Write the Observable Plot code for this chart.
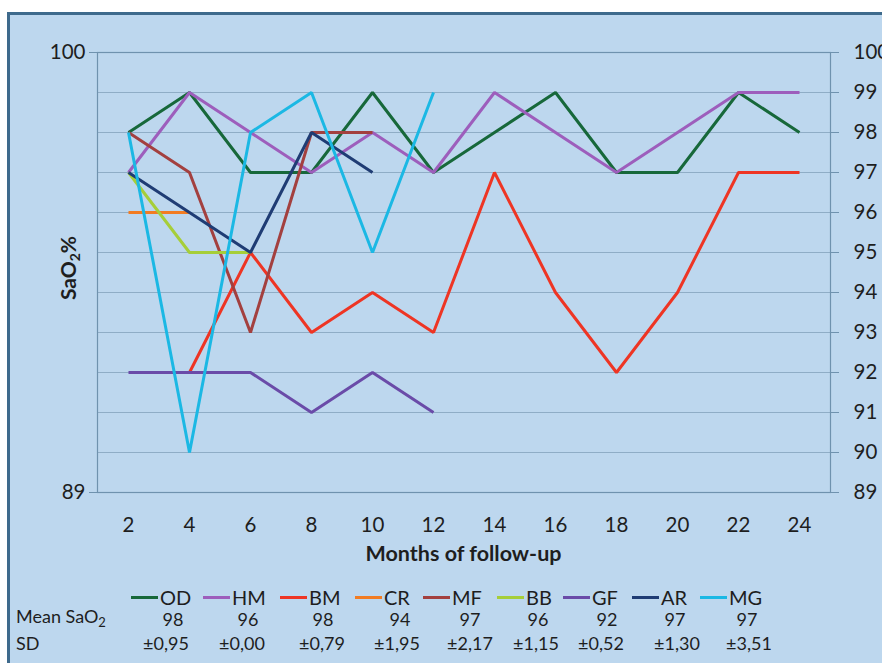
<!DOCTYPE html>
<html><head><meta charset="utf-8">
<script src="https://cdn.jsdelivr.net/npm/d3@7"></script>
<script src="https://cdn.jsdelivr.net/npm/@observablehq/plot@0.6"></script>
<style>
html,body{margin:0;padding:0;background:#fff;width:882px;height:663px;overflow:hidden;font-family:Lato,"Open Sans",sans-serif;color:#1e1e1e;}
#frame{position:absolute;left:7px;top:12px;width:900px;height:700px;background:#BDD7EE;border-left:3px solid #3E6A8C;border-top:3px solid #3E6A8C;}
#chart{position:absolute;left:0;top:0;}
.lg{position:absolute;top:597px;transform:translateY(-50%);display:flex;align-items:center;font-size:20px;line-height:20px;}
.lg span.sw{display:inline-block;width:27px;height:3px;margin-right:2px;}
.cell{position:absolute;transform:translate(-50%,-50%);font-size:18px;line-height:18px;white-space:nowrap;}
.rowlab{position:absolute;left:16px;transform:translateY(-50%);font-size:18px;line-height:18px;white-space:nowrap;}
</style></head>
<body>
<div id="frame"></div>
<div id="chart"></div>
<div id="legend"></div>
<script>
// ---- data ----
const months = [2, 4, 6, 8, 10, 12, 14, 16, 18, 20, 22, 24];
const seriesNames = ["OD", "HM", "BM", "CR", "MF", "BB", "GF", "AR", "MG"];
const OD = [98, 99, 97, 97, 99, 97, 98, 99, 97, 97, 99, 98];
const HM = [97, 99, 98, 97, 98, 97, 99, 98, 97, 98, 99, 99];
const BM = [null, 92, 95, 93, 94, 93, 97, 94, 92, 94, 97, 97];
const CR = [96, 96, null, null, null, null, null, null, null, null, null, null];
const MF = [98, 97, 93, 98, 98, null, null, null, null, null, null, null];
const BB = [97, 95, 95, null, null, null, null, null, null, null, null, null];
const GF = [92, 92, 92, 91, 92, 91, null, null, null, null, null, null];
const AR = [97, 96, 95, 98, 97, null, null, null, null, null, null, null];
const MG = [98, 90, 98, 99, 95, 99, null, null, null, null, null, null];
const meanSaO2 = ["98", "96", "98", "94", "97", "96", "92", "97", "97"];
const sdSaO2 = ["±0,95", "±0,00", "±0,79", "±1,95", "±2,17", "±1,15", "±0,52", "±1,30", "±3,51"];
const yTicksRight = [89, 90, 91, 92, 93, 94, 95, 96, 97, 98, 99, 100];
const yTicksLeft = [89, 100];
const yGrid = [90, 91, 92, 93, 94, 95, 96, 97, 98, 99];

// ---- styles ----
const colors = ["#17683A", "#9D5EBC", "#EE3524", "#F27C22", "#A3403F", "#A6CE39", "#6A4BA8", "#1F3C74", "#1BB8E4"];
const gridColor = "#8FADC6";
const axisColor = "#6F92AE";

const valuesBySeries = [OD, HM, BM, CR, MF, BB, GF, AR, MG];
const data = [];
seriesNames.forEach((s, i) => {
  valuesBySeries[i].forEach((v, j) => {
    if (v != null) data.push({series: s, month: months[j], value: v});
  });
});

const plot = Plot.plot({
  width: 882,
  height: 575,
  marginLeft: 97,
  marginRight: 52,
  marginTop: 52,
  marginBottom: 83,
  style: {background: "transparent", fontFamily: "Lato, 'Open Sans', sans-serif", fontSize: "20px", color: "#1e1e1e", overflow: "visible"},
  x: {type: "point", domain: months, padding: 0.5},
  y: {domain: [89, 100]},
  color: {domain: seriesNames, range: colors},
  marks: [
    Plot.ruleY(yGrid, {stroke: gridColor, strokeWidth: 1.2}),
    Plot.frame({stroke: axisColor, strokeWidth: 1.2}),
    Plot.axisY(yTicksLeft, {anchor: "left", tickSize: 8, tickPadding: 4, label: null, stroke: axisColor, fontSize: 20.5}),
    Plot.axisY(yTicksRight, {anchor: "right", tickSize: 8, tickPadding: 15, label: null, stroke: axisColor, fontSize: 20.5}),
    Plot.axisX({anchor: "bottom", tickSize: 0, tickPadding: 25, label: null, fontSize: 20.5}),
    ...seriesNames.map(s => Plot.line(data.filter(d => d.series === s), {
      x: "month", y: "value", stroke: "series", strokeWidth: 3, strokeLinejoin: "miter", strokeLinecap: "butt"
    }))
  ]
});
document.getElementById("chart").appendChild(plot);

// axis titles
const svg = d3.select(plot);
svg.append("text")
  .attr("x", 463.5).attr("y", 561)
  .attr("text-anchor", "middle")
  .attr("font-weight", "bold").attr("font-size", 21.5)
  .attr("fill", "#1e1e1e")
  .text("Months of follow-up");
const yt = svg.append("text")
  .attr("transform", "translate(76,268) rotate(-90)")
  .attr("text-anchor", "middle")
  .attr("font-weight", "bold").attr("font-size", 21)
  .attr("fill", "#1e1e1e");
yt.append("tspan").text("SaO");
yt.append("tspan").attr("font-size", 14).attr("dy", 4).text("2");
yt.append("tspan").attr("dy", -4).text("%");

// legend and table
const legendX = [131, 203, 280, 355, 423, 497, 563, 632, 700];
const meanX = [173, 248, 323, 400, 470, 538, 607, 675, 747];
const sdX = [166, 242, 322, 397, 470, 536, 601, 677, 749];
const lg = d3.select("#legend");
seriesNames.forEach((s, i) => {
  const e = lg.append("div").attr("class", "lg").style("left", legendX[i] + "px");
  e.append("span").attr("class", "sw").style("background", colors[i]);
  e.append("span").text(s);
  lg.append("div").attr("class", "cell").style("left", meanX[i] + "px").style("top", "619px").text(meanSaO2[i]);
  lg.append("div").attr("class", "cell").style("left", sdX[i] + "px").style("top", "643px").text(sdSaO2[i]);
});
const ml = lg.append("div").attr("class", "rowlab").style("top", "619px");
ml.append("span").text("Mean SaO");
ml.append("sub").style("font-size", "13px").style("vertical-align", "-4px").text("2");
lg.append("div").attr("class", "rowlab").style("top", "643px").text("SD");
</script>
</body></html>
